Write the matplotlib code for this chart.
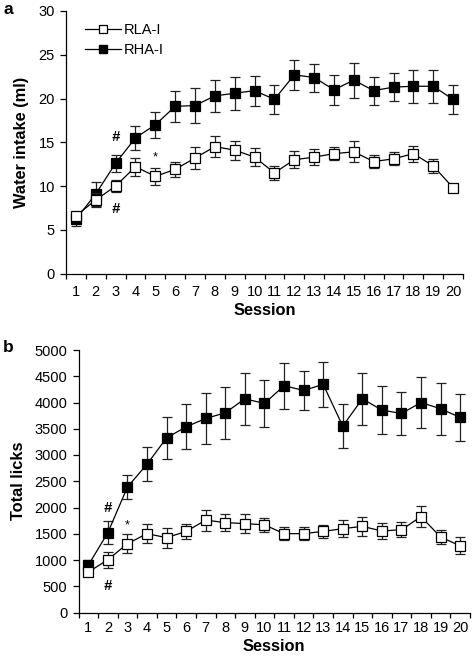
import numpy as np
import matplotlib
matplotlib.use("Agg")
import matplotlib.pyplot as plt
from matplotlib.ticker import FixedLocator
from matplotlib.lines import Line2D

plt.rcParams['font.family'] = ['Liberation Sans', 'DejaVu Sans']

sessions = list(range(1, 21))

# Panel a: water intake (ml)
water_rla = [6.6, 8.4, 10.0, 12.2, 11.1, 11.9, 13.2, 14.5, 14.1, 13.3, 11.5, 13.0, 13.3, 13.7, 13.9, 12.8, 13.1, 13.7, 12.3, 9.8]
water_rla_err = [0.4, 0.8, 0.7, 1.0, 1.0, 0.9, 1.3, 1.2, 1.1, 1.0, 0.8, 0.95, 0.9, 0.75, 1.2, 0.7, 0.75, 0.9, 0.8, 0.4]
water_rha = [6.2, 9.1, 12.6, 15.5, 17.0, 19.1, 19.2, 20.3, 20.6, 20.9, 19.9, 22.7, 22.4, 21.0, 22.1, 20.9, 21.3, 21.4, 21.4, 19.9]
water_rha_err = [0.8, 1.4, 1.0, 1.4, 1.5, 1.8, 2.0, 1.8, 1.9, 1.7, 1.7, 1.7, 1.6, 1.7, 2.0, 1.6, 1.6, 1.9, 1.9, 1.7]

# Panel b: total licks
licks_rla = [770, 1005, 1311, 1502, 1425, 1545, 1760, 1712, 1693, 1670, 1502, 1502, 1545, 1597, 1641, 1552, 1578, 1825, 1437, 1270]
licks_rla_err = [80, 150, 180, 175, 190, 150, 200, 165, 175, 130, 130, 130, 125, 160, 175, 155, 140, 205, 140, 165]
licks_rha = [900, 1521, 2390, 2824, 3327, 3537, 3696, 3804, 4070, 3982, 4320, 4230, 4345, 3550, 4070, 3855, 3791, 4000, 3880, 3715]
licks_rha_err = [100, 220, 220, 320, 400, 430, 490, 490, 490, 445, 440, 370, 430, 420, 490, 450, 410, 480, 490, 440]

# Significance marks: (session, y, text)
marks_a = [(3, 15.6, '#'), (3, 7.4, '#'), (5, 13.3, '*')]
marks_b = [(2, 1990, '#'), (2, 500, '#'), (3, 1650, '*')]

TICK_FS = 10.5
LABEL_FS = 11.8

W, H = 472, 656
fig = plt.figure(figsize=(W / 100, H / 100), dpi=100)

def make_ax(l, r, t, b):
    return fig.add_axes([l / W, 1 - b / H, (r - l) / W, (b - t) / H])

ax_a = make_ax(66, 463, 11, 273.5)
ax_b = make_ax(78.5, 470, 350, 612.5)

def style(ax, ymax, ystep, xpad):
    ax.set_xlim(0.5, 20.5)
    ax.set_ylim(0, ymax)
    ax.set_yticks(np.arange(0, ymax + 1e-9, ystep))
    ax.set_xticks(sessions)
    ax.xaxis.set_minor_locator(FixedLocator(np.arange(0.5, 21, 1.0)))
    ax.tick_params(axis='x', which='major', length=0, pad=xpad, labelsize=TICK_FS)
    ax.tick_params(axis='x', which='minor', length=3.5, width=0.9, direction='out')
    ax.tick_params(axis='y', which='major', length=4, width=0.9, pad=4, labelsize=TICK_FS)
    for s in ['top', 'right']:
        ax.spines[s].set_visible(False)
    for s in ['left', 'bottom']:
        ax.spines[s].set_linewidth(0.9)
    ax.set_xlabel('Session', fontsize=LABEL_FS, fontweight='bold', labelpad=3)

def draw(ax, rla, rla_err, rha, rha_err):
    kw = dict(color='black', lw=0.9, marker='s', markersize=6.5, capsize=3.3,
              elinewidth=0.9, capthick=0.9, ecolor='#222222', markeredgewidth=0.9)
    ax.errorbar(sessions, rha, yerr=rha_err, markerfacecolor='black',
                markeredgecolor='black', zorder=3, **kw)
    ax.errorbar(sessions, rla, yerr=rla_err, markerfacecolor='white',
                markeredgecolor='black', zorder=4, **kw)

def marks(ax, items):
    for x, y, t in items:
        if t == '#':
            ax.text(x, y, t, ha='center', va='center', fontsize=10.5,
                    fontweight='bold', fontstyle='italic')
        else:
            ax.text(x, y, t, ha='center', va='center', fontsize=9)

style(ax_a, 30, 5, 8)
draw(ax_a, water_rla, water_rla_err, water_rha, water_rha_err)
ax_a.set_ylabel('Water intake (ml)', fontsize=LABEL_FS, fontweight='bold', labelpad=7)
marks(ax_a, marks_a)

handles = [
    Line2D([], [], color='black', lw=0.9, marker='s', markersize=5.2,
           markerfacecolor='white', markeredgecolor='black', markeredgewidth=0.9),
    Line2D([], [], color='black', lw=0.9, marker='s', markersize=5.2,
           markerfacecolor='black', markeredgecolor='black'),
]
ax_a.legend(handles, ['RLA-I', 'RHA-I'], loc='upper left', bbox_to_anchor=(0.02, 0.995),
            frameon=False, fontsize=TICK_FS, handlelength=2.5, handletextpad=0.15,
            labelspacing=0.4, borderaxespad=0.35)

style(ax_b, 5000, 500, 6)
draw(ax_b, licks_rla, licks_rla_err, licks_rha, licks_rha_err)
ax_b.set_ylabel('Total licks', fontsize=LABEL_FS, fontweight='bold', labelpad=6)
marks(ax_b, marks_b)

fig.text(3 / W, 1 - 9 / H, 'a', fontsize=12.5, fontweight='bold', ha='left', va='center')
fig.text(3 / W, 1 - 347 / H, 'b', fontsize=12.5, fontweight='bold', ha='left', va='center')

fig.savefig('out.png', dpi=100)
